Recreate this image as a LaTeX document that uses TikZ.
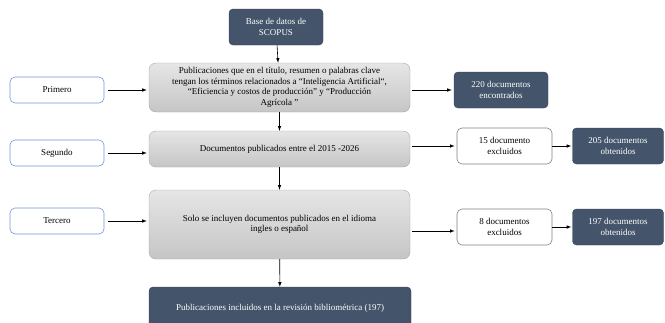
\documentclass[tikz,border=0pt]{standalone}
\usepackage{fontspec}
\setmainfont{Liberation Serif}
\usepackage{tikz}
\usetikzlibrary{positioning,calc}

\definecolor{navy}{HTML}{44546A}
\definecolor{grayedge}{HTML}{A6A6A6}
\definecolor{stepblue}{HTML}{7396D6}

\begin{document}
\begin{tikzpicture}[
    x=1pt, y=-1pt,
    every node/.style={font=\fontsize{9}{10.5}\selectfont, align=center, inner sep=2pt},
    dark/.style={rectangle, rounded corners=4pt, draw=navy!80!black, fill=navy, text=white},
    filter/.style={rectangle, rounded corners=7pt, draw=grayedge, top color=gray!20, bottom color=gray!45, minimum width=261pt},
    stage/.style={rectangle, rounded corners=5pt, draw=stepblue, line width=0.6pt, fill=white, minimum width=94pt, minimum height=26pt},
    excl/.style={rectangle, rounded corners=5pt, draw=gray, line width=0.6pt, fill=white, minimum width=95pt, minimum height=36pt},
    link/.style={->, line width=0.6pt},
    >=latex
]
    \useasboundingbox (0,0) rectangle (665,322);
    \begin{scope}
    \clip (0,0) rectangle (665,322);

    % Source
    \node[dark, minimum width=94pt, minimum height=36pt] (scopus) at (276,27) {Base de datos de\\SCOPUS};

    % Filters
    \node[filter, minimum height=49pt] (f1) at (279.5,87.5) {Publicaciones que en el título, resumen o palabras clave\\tengan los términos relacionados a “Inteligencia Artificial“,\\“Eficiencia y costos de producción” y “Producción\\Agrícola ”};
    \node[filter, minimum height=36pt] (f2) at (279.5,149) {Documentos publicados entre el 2015 -2026};
    \node[filter, minimum height=69pt] (f3) at (279.5,224.5) {Solo se incluyen documentos publicados en el idioma\\ingles o español};

    % Result
    \node[dark, minimum width=262pt, minimum height=42pt] (final) at (280,308) {Publicaciones incluidos en la revisión bibliométrica (197)};

    % Stages
    \node[stage] (s1) at (57,90) {Primero};
    \node[stage] (s2) at (57,153) {Segundo};
    \node[stage] (s3) at (57,221) {Tercero};

    % Counts
    \node[dark, minimum width=94pt, minimum height=36pt] (n220) at (501,90) {220 documentos\\encontrados};
    \node[excl] (x15) at (504.5,146) {15 documento\\excluidos};
    \node[dark, minimum width=91pt, minimum height=36pt] (n205) at (618,146) {205 documentos\\obtenidos};
    \node[excl] (x8) at (504.5,227) {8 documentos\\excluidos};
    \node[dark, minimum width=91pt, minimum height=36pt] (n197) at (618,227) {197 documentos\\obtenidos};
    \coordinate (in8) at ($(x8.west)+(0,4)$);

    % Connections
    \draw[link] (scopus) -- (f1);
    \draw[link] (f1) -- (f2);
    \draw[link] (f2) -- (f3);
    \draw[link] (f3) -- (final);

    \draw[link, shorten <=4pt, shorten >=2pt] (s1) -- (s1 -| f1.west);
    \draw[link, shorten <=4pt, shorten >=2pt] (s2) -- (s2 -| f2.west);
    \draw[link, shorten <=4pt, shorten >=2pt] (s3) -- (s3 -| f3.west);

    \draw[link, shorten <=2pt, shorten >=2pt] (n220 -| f1.east) -- (n220);
    \draw[link, shorten <=2pt, shorten >=2pt] (x15 -| f2.east) -- (x15);
    \draw[link, shorten >=1pt] (x15) -- (n205);
    \draw[link, shorten <=2pt, shorten >=2pt] (in8 -| f3.east) -- (in8);
    \draw[link, shorten >=1pt] (x8) -- (n197);
    \end{scope}
\end{tikzpicture}
\end{document}
